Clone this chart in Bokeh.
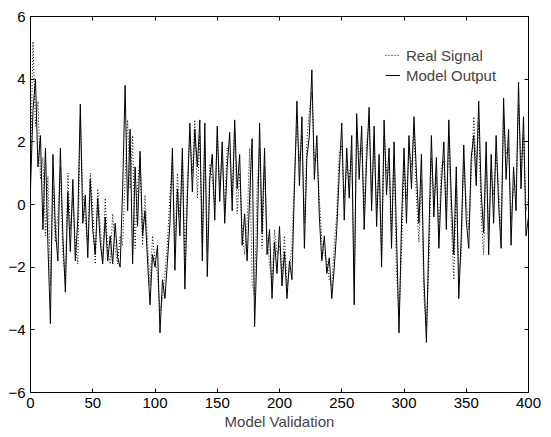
from bokeh.plotting import figure
from bokeh.models import LinearAxis, Range1d, Legend, LegendItem, FixedTicker, CustomJSTickFormatter
from bokeh.embed import file_html
from bokeh.resources import INLINE

# sample index (every 2nd sample of the validation set)
samples = list(range(0, 401, 2))

model_output = [
    0.5, 3.0, 4.0, 1.2, 2.2, -0.8, 1.8, -1.3, -3.8, 1.6,
    -0.8, -1.8, 1.8, -1.0, -2.8, 0.4, -1.5, 0.8, -1.8, -0.5,
    3.2, -0.6, 0.3, -1.7, 0.8, -0.8, -1.6, 0.2, -1.2, -1.9,
    -0.4, -1.8, -1.0, -1.9, -0.6, -1.7, -2.0, 0.5, 3.8, -0.2,
    2.4, -1.9, 1.2, -0.7, 1.7, -1.0, -0.2, -1.8, -3.2, -1.6,
    -2.0, -1.3, -4.1, -2.4, -3.0, -1.8, -0.6, 1.8, -2.1, 0.5,
    -1.0, 1.8, -2.7, 0.2, 2.6, 0.4, 2.4, 1.2, 2.7, -1.8,
    2.6, -2.3, 0.8, 1.6, -0.5, 2.5, 0.1, 2.0, -0.6, 1.2,
    2.3, -0.2, 2.7, 0.5, 1.6, -1.3, -0.3, -1.8, 0.2, 2.1,
    -3.9, -1.4, 2.6, -0.9, 1.8, -1.6, -0.8, -3.0, -1.2, -2.2,
    -0.7, -2.6, -1.5, -3.0, -1.8, -2.4, 0.5, 3.3, 0.6, 2.8,
    -1.4, 1.5, 2.2, 4.3, 0.8, 2.2, -0.4, -1.8, -1.0, -2.2,
    -1.7, -3.0, -2.0, -0.8, 1.0, 2.6, -0.5, 1.8, 0.2, 2.2,
    -3.2, 2.9, 0.8, 2.5, -0.8, 1.4, 3.1, -0.2, 2.5, -0.7,
    1.6, -2.0, 2.7, 0.3, 1.8, -1.4, 2.0, -1.0, -4.1, -0.6,
    1.8, -0.6, 2.2, 0.5, 2.8, 1.0, -0.6, 1.6, -2.3, -4.4,
    -1.0, 2.2, -0.4, 1.5, -1.4, 0.6, 2.0, -0.8, 2.7, 0.2,
    -1.6, 1.2, -3.0, -1.0, 1.9, -0.5, -1.4, 1.5, 2.2, 0.6,
    3.3, 0.4, -0.9, 2.0, -1.6, 1.6, -0.6, 2.2, 0.0, -1.4,
    3.4, 0.8, 2.4, -1.3, 1.2, -0.2, 3.9, 0.5, 2.8, -1.0,
    -0.4,
]

real_signal = [
    1.0, 5.2, 2.5, 3.3, 0.8, 1.5, -1.0, 0.9, -2.6, 0.6,
    -1.2, -0.3, 1.2, -1.6, -2.4, 1.0, -0.8, 0.2, -1.3, -1.9,
    2.8, 0.4, -0.5, -1.2, 1.0, -0.1, -1.9, 0.5, -0.7, -1.8,
    0.2, -1.5, -1.9, -0.3, -1.4, -1.9, -1.0, -1.3, 0.9, 2.7,
    0.5, 2.2, -1.4, 0.6, 1.5, -1.3, 0.3, -1.2, -2.6, -1.0,
    -1.8, -2.2, -3.4, -3.0, -2.2, -1.2, 0.3, 1.4, -1.5, 1.0,
    -0.4, 1.6, -1.8, 0.8, 2.2, 1.0, 2.7, 0.2, 2.2, -1.2,
    2.0, -1.5, 1.3, 0.8, 0.0, 2.2, 0.6, 1.4, -0.2, 1.8,
    1.6, 0.2, 2.4, -0.3, 1.0, -0.8, -1.6, -0.6, 1.8, -2.5,
    -2.9, 0.5, 1.8, -1.4, 1.2, -1.0, -1.9, -2.5, -0.8, -1.6,
    -1.3, -2.3, -1.0, -2.6, -2.1, -1.3, 1.0, 2.5, 1.4, 2.2,
    -0.6, 2.0, 3.0, 3.6, 1.4, 1.6, 0.2, -1.2, -1.6, -1.8,
    -2.4, -2.6, -1.3, -0.3, 1.6, 1.9, 0.2, 1.2, 0.8, 1.6,
    -2.6, 2.3, 1.6, 1.8, -0.2, 2.0, 2.6, 0.4, 1.9, -0.1,
    1.0, -1.6, 2.2, 1.0, 1.2, -0.8, 1.5, -2.2, -3.6, -1.5,
    1.2, 0.2, 1.8, 1.2, 2.4, 0.2, -1.2, 0.8, -3.0, -3.9,
    -1.9, 1.5, 0.2, 0.9, -0.9, 1.2, 1.4, -0.2, 2.2, -0.6,
    -2.4, 0.6, -2.2, -1.6, 1.4, 0.1, -0.8, 0.9, 2.8, 1.2,
    2.6, -0.4, -1.6, 1.4, -0.8, 1.1, 0.3, 1.6, 0.6, -0.9,
    2.8, 1.6, 1.8, -0.5, 0.5, 0.6, 3.2, 1.2, 2.2, -0.2,
    0.2,
]

x_ticks = [0, 50, 100, 150, 200, 250, 300, 350, 400]
y_ticks = [-6, -4, -2, 0, 2, 4, 6]
x_label = "Model Validation"
series_names = ["Real Signal", "Model Output"]

FONT = "Liberation Sans"

p = figure(width=551, height=437, output_backend="svg", toolbar_location=None,
           x_range=Range1d(0, 400), y_range=Range1d(-6, 6),
           min_border_left=30, min_border_right=23, min_border_top=16, min_border_bottom=45)
p.background_fill_color = "white"
p.border_fill_color = "white"
p.outline_line_color = "black"
p.outline_line_width = 1
p.xgrid.visible = False
p.ygrid.visible = False

r_real = p.line(samples, real_signal, line_color="black", line_width=1, line_dash="1 2")
r_model = p.line(samples, model_output, line_color="black", line_width=1)

for ax in p.xaxis + p.yaxis:
    ax.major_tick_in = 4
    ax.major_tick_out = 0
    ax.minor_tick_line_color = None
    ax.axis_line_color = "black"
    ax.major_tick_line_color = "black"
    ax.major_label_text_font = FONT
    ax.major_label_text_font_size = "15px"
    ax.major_label_text_color = "black"

p.xaxis.ticker = FixedTicker(ticks=x_ticks)
p.yaxis.ticker = FixedTicker(ticks=y_ticks)
p.xaxis.major_label_standoff = 5
p.yaxis.major_label_standoff = 5
p.xaxis.axis_label = x_label
p.xaxis.axis_label_text_font = FONT
p.xaxis.axis_label_text_font_size = "15px"
p.xaxis.axis_label_text_font_style = "normal"
p.xaxis.axis_label_standoff = 2

empty = CustomJSTickFormatter(code="return ''")
top = LinearAxis(ticker=FixedTicker(ticks=x_ticks), formatter=empty,
                 major_tick_in=4, major_tick_out=0, minor_tick_line_color=None,
                 major_label_standoff=0, major_label_text_font_size="1px")
right = LinearAxis(ticker=FixedTicker(ticks=y_ticks), formatter=empty,
                   major_tick_in=4, major_tick_out=0, minor_tick_line_color=None,
                   major_label_standoff=0, major_label_text_font_size="1px")
p.add_layout(top, "above")
p.add_layout(right, "right")

legend = Legend(items=[LegendItem(label=series_names[0], renderers=[r_real]),
                       LegendItem(label=series_names[1], renderers=[r_model])],
                location=(355, 307))
legend.background_fill_alpha = 0
legend.border_line_color = None
legend.label_text_font = FONT
legend.label_text_font_size = "15px"
legend.glyph_width = 15
legend.glyph_height = 20
legend.label_height = 20
legend.spacing = 0
legend.padding = 5
legend.margin = 0
legend.label_standoff = 6
p.add_layout(legend, "center")

open("out.html", "w").write(file_html(p, INLINE))
